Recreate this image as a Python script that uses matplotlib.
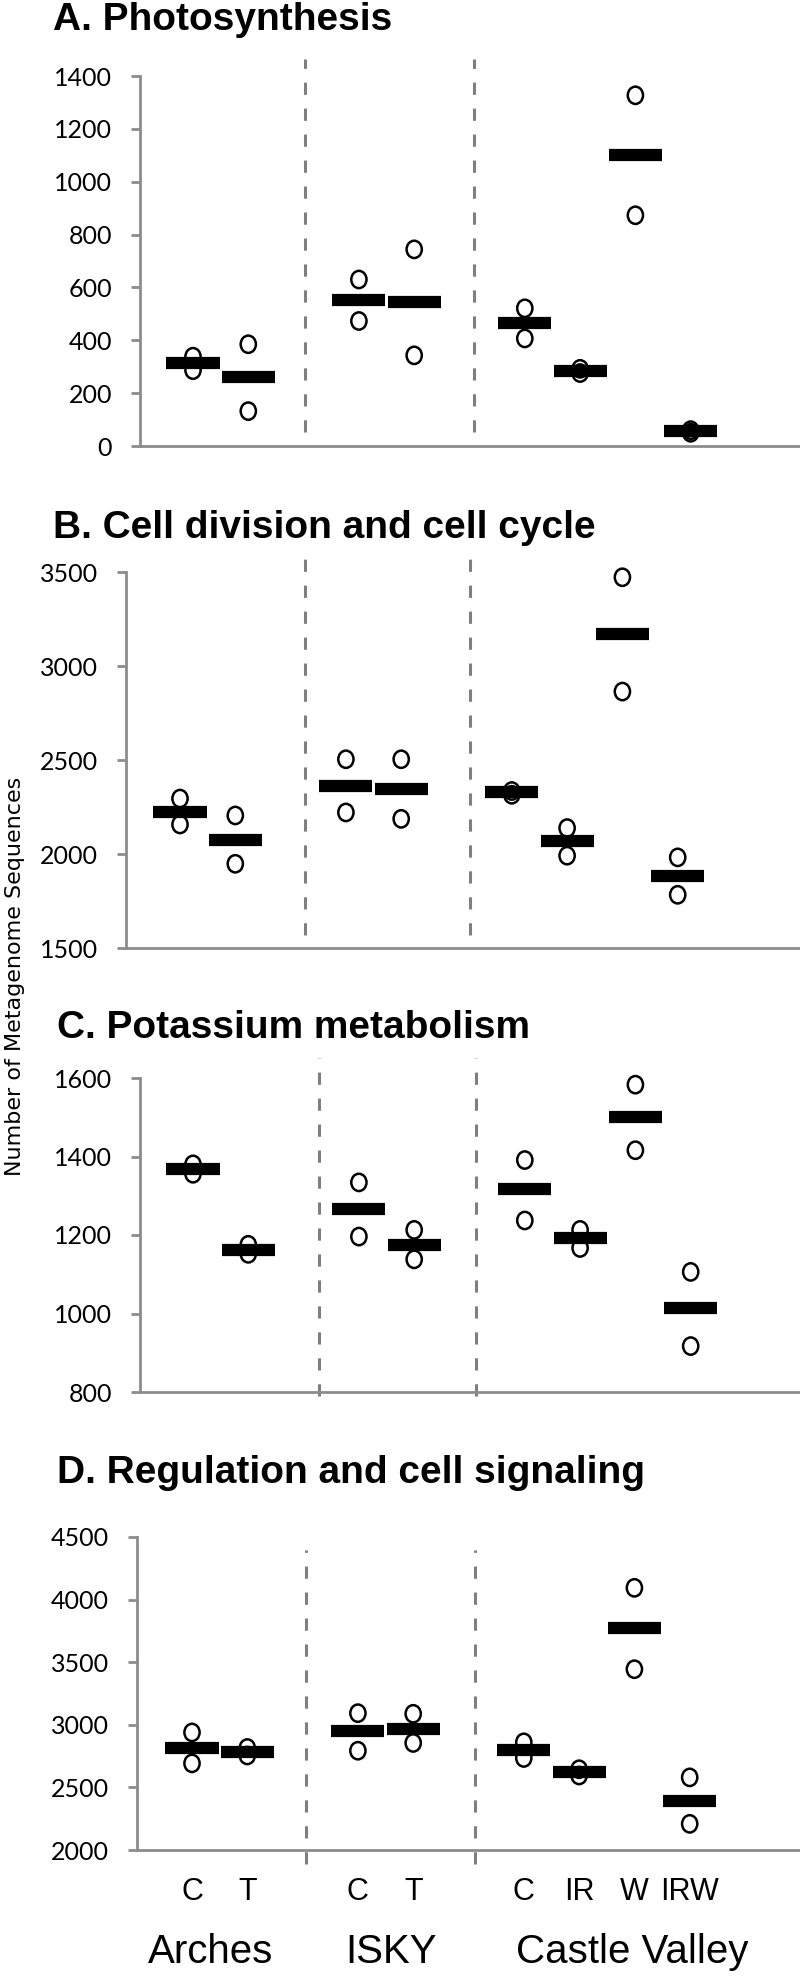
import numpy as np
import matplotlib.pyplot as plt
from matplotlib.path import Path
from matplotlib.transforms import Affine2D

# categories
treatments = ['C', 'T', 'C', 'T', 'C', 'IR', 'W', 'IRW']
xpos = [0, 1, 3, 4, 6, 7, 8, 9]
sites = ['Arches', 'ISKY', 'Castle Valley']
site_x = [0.34, 3.6, 7.96]

titles = ['A. Photosynthesis', 'B. Cell division and cell cycle',
          'C. Potassium metabolism', 'D. Regulation and cell signaling']

# replicate values (upper / lower circle) and mean bar
photo_hi = [338, 385, 630, 744, 521, 292, 1327, 60]
photo_lo = [287, 132, 473, 343, 407, 276, 873, 50]
photo_mean = [313, 260, 552, 543, 464, 284, 1100, 55]

cell_hi = [2295, 2205, 2504, 2504, 2335, 2138, 3472, 1982]
cell_lo = [2157, 1948, 2221, 2187, 2315, 1991, 2864, 1783]
cell_mean = [2223, 2077, 2363, 2347, 2329, 2067, 3170, 1884]

potas_hi = [1380, 1175, 1334, 1213, 1391, 1213, 1583, 1106]
potas_lo = [1356, 1152, 1196, 1138, 1237, 1167, 1416, 917]
potas_mean = [1368, 1163, 1266, 1175, 1316, 1193, 1500, 1014]

reg_hi = [2939, 2815, 3093, 3088, 2860, 2645, 4094, 2580]
reg_lo = [2692, 2755, 2793, 2855, 2735, 2595, 3444, 2209]
reg_mean = [2817, 2785, 2947, 2970, 2798, 2620, 3770, 2389]

ylims = [(0, 1400), (1500, 3500), (800, 1600), (2000, 4500)]
ysteps = [200, 500, 200, 500]

# layout in pixels of the 800 x 1979 figure
W, H = 800.0, 1979.0
unit = 55.3
spine_px = [140, 126, 140, 137]
origin_px = [193, 180, 193, 192]
top_px = [76, 572, 1078, 1537]
bottom_px = [446, 948, 1392, 1850]
dash_px = [(305, 474), (305, 470), (319, 476), (306, 475)]
dash_y_px = [(59, 432), (558, 935), (1058, 1396), (1550, 1864)]
title_px = [(53, 30), (53, 538), (57, 1038), (57, 1483)]

gray = '#8c8c8c'
ell = Path(Affine2D().scale(0.88, 1.0).transform(Path.unit_circle().vertices),
           Path.unit_circle().codes)

fig = plt.figure(figsize=(8, 19.79), dpi=100)

panels = [(photo_hi, photo_lo, photo_mean), (cell_hi, cell_lo, cell_mean),
          (potas_hi, potas_lo, potas_mean), (reg_hi, reg_lo, reg_mean)]

for i, (hi, lo, mean) in enumerate(panels):
    l = spine_px[i] / W
    b = 1 - bottom_px[i] / H
    h = (bottom_px[i] - top_px[i]) / H
    ax = fig.add_axes([l, b, 1 - l, h])
    x0 = (spine_px[i] - origin_px[i]) / unit
    x1 = (W - origin_px[i]) / unit
    ax.set_xlim(x0, x1)
    ax.set_ylim(*ylims[i])

    x = np.array(xpos, dtype=float)
    ax.scatter(x, hi, marker=ell, s=155, facecolors='none',
               edgecolors='black', linewidths=1.8, zorder=3, clip_on=False)
    ax.scatter(x, lo, marker=ell, s=155, facecolors='none',
               edgecolors='black', linewidths=1.8, zorder=3, clip_on=False)
    ax.hlines(mean, x - 0.48, x + 0.48, colors='black', lw=8.8,
              capstyle='butt', zorder=4)

    # dashed separators between sites
    ext = bottom_px[i] - top_px[i]
    for d in dash_px[i]:
        dx = (d - origin_px[i]) / unit
        ya = (bottom_px[i] - dash_y_px[i][1]) / ext
        yb = (bottom_px[i] - dash_y_px[i][0]) / ext
        ax.plot([dx, dx], [ya, yb], transform=ax.get_xaxis_transform(),
                color='#7f7f7f', lw=2.2, dashes=(4, 4.5), clip_on=False)

    for s in ['top', 'right']:
        ax.spines[s].set_visible(False)
    for s in ['left', 'bottom']:
        ax.spines[s].set_color(gray)
        ax.spines[s].set_linewidth(2.0)
    ax.set_yticks(np.arange(ylims[i][0], ylims[i][1] + 1, ysteps[i]))
    ax.tick_params(axis='y', direction='out', length=6.5, width=2.0,
                   color=gray, pad=13.5, labelsize=18)
    for t in ax.get_yticklabels():
        t.set_fontfamily('Lato')
    ax.set_xticks([])

    fig.text(title_px[i][0] / W, 1 - title_px[i][1] / H, titles[i],
             fontsize=28, fontweight='bold', family='Liberation Sans',
             ha='left', va='baseline')

    if i == 3:
        for xp, lab in zip(xpos, treatments):
            ax.text(xp, (bottom_px[i] - 1892) / ext, lab, ha='center',
                    va='center', fontsize=22, family='Liberation Sans',
                    transform=ax.get_xaxis_transform())
        for xp, lab in zip(site_x, sites):
            ax.text(xp, (bottom_px[i] - 1952) / ext, lab, ha='center',
                    va='center', fontsize=29, family='Liberation Sans',
                    transform=ax.get_xaxis_transform())

fig.text(15 / W, 1 - 976 / H, 'Number of Metagenome Sequences', rotation=90,
         ha='center', va='center', fontsize=16, family='DejaVu Sans')

fig.savefig('out.png', dpi=100)
